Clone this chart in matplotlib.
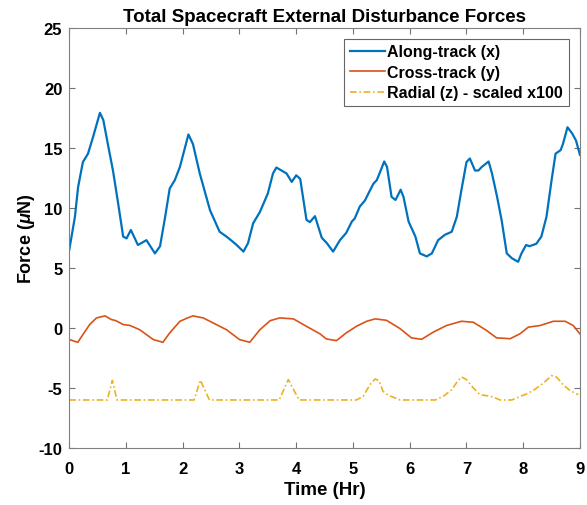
# Total spacecraft external disturbance forces, MATLAB-style figure

import numpy as np
import matplotlib
matplotlib.use("Agg")
import matplotlib.pyplot as plt

plt.rcParams['font.family'] = ['Liberation Sans', 'DejaVu Sans']
plt.rcParams['font.weight'] = 'bold'
plt.rcParams['axes.unicode_minus'] = False
plt.rcParams['mathtext.fontset'] = 'custom'
plt.rcParams['mathtext.it'] = 'Liberation Sans:italic'

# Along-track (x)
t_x = [0.0, 0.1, 0.155, 0.24, 0.33, 0.42, 0.54, 0.6, 0.69, 0.77, 0.86, 0.95,
       1.01, 1.085, 1.21, 1.36, 1.51, 1.6, 1.69, 1.77, 1.86, 1.95, 2.1, 2.18,
       2.3, 2.48, 2.65, 2.77, 2.85, 2.95, 3.07, 3.15, 3.24, 3.36, 3.5, 3.59,
       3.65, 3.74, 3.83, 3.92, 4.0, 4.07, 4.18, 4.24, 4.33, 4.45, 4.54, 4.65,
       4.77, 4.88, 4.98, 5.03, 5.12, 5.21, 5.3, 5.36, 5.42, 5.48, 5.55, 5.6,
       5.68, 5.75, 5.84, 5.89, 5.98, 6.1, 6.18, 6.3, 6.39, 6.5, 6.62, 6.74,
       6.83, 6.91, 7.0, 7.06, 7.15, 7.21, 7.27, 7.39, 7.45, 7.54, 7.62, 7.71,
       7.8, 7.91, 7.97, 8.05, 8.11, 8.23, 8.32, 8.41, 8.5, 8.57, 8.66, 8.7,
       8.78, 8.86, 8.93, 9.0]
f_x = [6.5, 9.25, 11.7, 13.8, 14.5, 15.9, 17.9, 17.3, 15.05, 13.1, 10.4, 7.6,
       7.45, 8.15, 6.9, 7.3, 6.2, 6.8, 9.25, 11.6, 12.3, 13.4, 16.1, 15.3,
       12.85, 9.8, 8.0, 7.6, 7.3, 6.9, 6.35, 7.05, 8.7, 9.65, 11.2, 12.85,
       13.35, 13.1, 12.85, 12.15, 12.7, 12.4, 9.0, 8.8, 9.3, 7.5, 7.05, 6.35,
       7.3, 7.9, 8.85, 9.1, 10.1, 10.6, 11.45, 12.0, 12.3, 13.0, 13.85, 13.4,
       10.9, 10.65, 11.5, 10.9, 8.85, 7.6, 6.2, 5.95, 6.2, 7.3, 7.75, 8.0,
       9.25, 11.45, 13.8, 14.1, 13.1, 13.1, 13.4, 13.85, 12.85, 10.9, 8.95, 6.2,
       5.8, 5.5, 6.2, 6.9, 6.8, 7.0, 7.6, 9.25, 12.3, 14.5, 14.8, 15.3,
       16.7, 16.2, 15.6, 14.4]

# Cross-track (y)
t_y = [0.0, 0.15, 0.24, 0.36, 0.48, 0.63, 0.74, 0.82, 0.95, 1.07, 1.24, 1.48,
       1.65, 1.77, 1.95, 2.07, 2.18, 2.36, 2.54, 2.77, 3.0, 3.18, 3.36, 3.54,
       3.71, 3.95, 4.18, 4.42, 4.53, 4.71, 4.88, 5.06, 5.24, 5.39, 5.59, 5.83,
       6.03, 6.21, 6.42, 6.65, 6.91, 7.12, 7.35, 7.53, 7.77, 7.94, 8.09, 8.3,
       8.53, 8.74, 8.88, 9.0]
f_y = [-0.97, -1.2, -0.56, 0.28, 0.83, 1.0, 0.7, 0.6, 0.28, 0.2, -0.15, -0.97,
       -1.2, -0.42, 0.55, 0.8, 1.0, 0.83, 0.4, -0.15, -0.97, -1.2, -0.15, 0.6,
       0.83, 0.75, 0.13, -0.5, -0.92, -1.06, -0.42, 0.13, 0.55, 0.75, 0.63, -0.06,
       -0.83, -0.95, -0.34, 0.2, 0.55, 0.47, -0.2, -0.83, -0.9, -0.5, 0.06, 0.2,
       0.55, 0.55, 0.2, -0.5]

# Radial (z), scaled x100
t_z = [0.0, 0.67, 0.76, 0.84, 2.2, 2.31, 2.47, 3.7, 3.86, 4.05, 5.06, 5.18,
       5.3, 5.39, 5.46, 5.53, 5.62, 5.83, 6.45, 6.59, 6.74, 6.83, 6.91, 7.0,
       7.12, 7.24, 7.35, 7.47, 7.59, 7.8, 7.95, 8.06, 8.18, 8.36, 8.5, 8.59,
       8.7, 8.82, 8.97]
f_z = [-6.0, -6.0, -4.37, -6.0, -6.0, -4.35, -6.0, -6.0, -4.3, -6.0, -6.0, -5.7,
       -4.72, -4.25, -4.4, -5.28, -5.6, -6.0, -6.0, -5.7, -5.15, -4.53, -4.08, -4.3,
       -5.0, -5.56, -5.64, -5.75, -6.0, -6.0, -5.7, -5.5, -5.2, -4.58, -3.97, -4.1,
       -4.72, -5.2, -5.56]

fig = plt.figure(figsize=(5.87, 5.06), dpi=100)
ax = fig.add_axes([0.118, 0.1126, 0.870, 0.831])

ax.plot(t_x, f_x, color='#0072BD', lw=1.6, label='Along-track (x)')
ax.plot(t_y, f_y, color='#D95319', lw=1.2, label='Cross-track (y)')
ax.plot(t_z, f_z, color='#EDB120', lw=1.2, ls=(0, (4, 1.6, 1, 1.6)),
        label='Radial (z) - scaled x100')

ax.set_xlim(0, 9)
ax.set_ylim(-10, 25)
ax.set_xticks(range(0, 10))
ax.set_yticks(range(-10, 30, 5))
ax.tick_params(direction='in', top=True, right=True, length=4, width=0.8,
               labelsize=12, colors='0.45', labelcolor='black')
ax.tick_params(axis='x', pad=9)
ax.tick_params(axis='y', pad=5)
for s in ax.spines.values():
    s.set_color('0.5')
    s.set_linewidth(0.8)
for lab in ax.get_xticklabels() + ax.get_yticklabels():
    lab.set_fontweight('bold')

ax.set_title('Total Spacecraft External Disturbance Forces', fontsize=13.5,
             fontweight='bold', pad=5)
ax.set_xlabel('Time (Hr)', fontsize=13.5, fontweight='bold', labelpad=4)
ax.set_ylabel(r'Force ($\mu$N)', fontsize=13, fontweight='bold', labelpad=1)

leg = ax.legend(loc='upper right', fontsize=11.5, frameon=True, fancybox=False,
                edgecolor='0.25', handlelength=2.2, handletextpad=0.15,
                borderpad=0.35, labelspacing=0.35, borderaxespad=0.7)
leg.get_frame().set_linewidth(0.8)
for txt in leg.get_texts():
    txt.set_fontweight('bold')

fig.savefig('out.png', dpi=100)
